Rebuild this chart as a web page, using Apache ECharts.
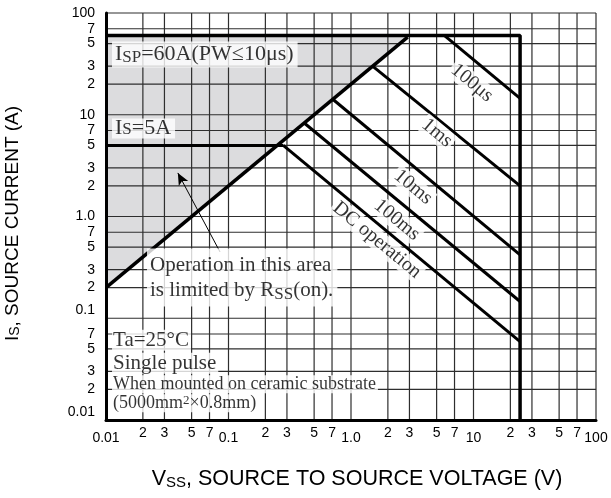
<!DOCTYPE html>
<html lang="en">
<head>
<meta charset="UTF-8">
<title>Safe operating area</title>
<style>
    html, body {
        margin: 0;
        padding: 0;
        background: #fff;
    }

    #chart {
        width: 611px;
        height: 498px;
    }
</style>
</head>
<body>
<div id="chart"></div>
<script src="https://cdn.jsdelivr.net/npm/echarts@6/dist/echarts.min.js"></script>
<script>
    // grid lines / tick labels (1-2-3-5-7 per decade)
    var xTicks = [0.01, 0.02, 0.03, 0.05, 0.07, 0.1, 0.2, 0.3, 0.5, 0.7, 1, 2, 3, 5, 7, 10, 20, 30, 50, 70, 100];
    var xTickLabels = ['0.01', '2', '3', '5', '7', '0.1', '2', '3', '5', '7', '1.0', '2', '3', '5', '7', '10', '2', '3', '5', '7', '100'];
    var yTicks = [0.01, 0.02, 0.03, 0.05, 0.07, 0.1, 0.2, 0.3, 0.5, 0.7, 1, 2, 3, 5, 7, 10, 20, 30, 50, 70, 100];
    var yTickLabels = ['0.01', '2', '3', '5', '7', '0.1', '2', '3', '5', '7', '1.0', '2', '3', '5', '7', '10', '2', '3', '5', '7', '100'];

    // limit lines, [V, A]
    var rssLine = [[0.01, 0.2], [2.9, 58]];
    var ispLine = [[0.01, 60], [24, 60], [24, 0.01]];
    var isLine = [[0.01, 5], [0.28, 5]];
    var dcLine = [[0.28, 5], [24, 0.059]];
    var ms100Line = [[0.415, 8.3], [24, 0.146]];
    var ms10Line = [[0.71, 14.2], [24, 0.42]];
    var ms1Line = [[1.5, 30], [24, 2.0]];
    var us100Line = [[5.8, 60], [24, 14.5]];
    var rssArea = [[0.01, 0.2], [2.9, 58], [2.9, 60], [0.01, 60]];
    var arrowFrom = [0.0853, 0.448];
    var arrowTo = [0.0386, 2.68];

    var X_MIN = 0.01, X_MAX = 100, Y_MIN = 0.01, Y_MAX = 100;

    var serif = '"Liberation Serif", "Times New Roman", serif';
    var sans = '"Liberation Sans", Arial, Helvetica, sans-serif';
    var GRID_COLOR = '#2e2e2e';

    var isDecade = function (v) {
        var l = Math.log10(v);
        return Math.abs(l - Math.round(l)) < 1e-6;
    };

    var findLabel = function (ticks, labels, v) {
        for (var i = 0; i < ticks.length; i++) {
            if (Math.abs(Math.log10(v / ticks[i])) < 1e-6) {
                return labels[i];
            }
        }
        return '';
    };

    var limitLine = function (data, width) {
        return {
            type: 'line',
            data: data,
            z: 3,
            symbol: 'none',
            silent: true,
            lineStyle: {color: '#000', width: width || 3},
            emphasis: {disabled: true}
        };
    };

    // grid drawn as a custom series so it sits between the shaded area and the curves
    var gridSeries = function (ticks, vertical) {
        return {
            type: 'custom',
            z: 1,
            silent: true,
            clip: false,
            data: ticks.map(function (v) {
                return vertical ? [v, 1] : [1, v];
            }),
            renderItem: function (params, api) {
                var a, b;
                if (vertical) {
                    a = api.coord([api.value(0), Y_MIN]);
                    b = api.coord([api.value(0), Y_MAX]);
                } else {
                    a = api.coord([X_MIN, api.value(1)]);
                    b = api.coord([X_MAX, api.value(1)]);
                }
                return {
                    type: 'line',
                    shape: {x1: a[0], y1: a[1], x2: b[0], y2: b[1]},
                    style: {stroke: GRID_COLOR, lineWidth: 1.2}
                };
            }
        };
    };

    var ANGLE = -39.7;
    var rotated = function (at, text) {
        return {
            value: at,
            label: {
                show: true,
                position: 'inside',
                rotate: ANGLE,
                formatter: text,
                fontFamily: serif,
                fontSize: 20,
                color: '#000',
                backgroundColor: '#fff',
                padding: [0, 2]
            }
        };
    };

    var notes = [
        {
            value: [0.01119, 39.1],
            label: {
                show: true, position: 'right', distance: 0,
                formatter: '{m|I}{s|SP}{m|=60A(PW≤10μs)}',
                backgroundColor: '#fff', padding: [1, 4, 1, 3],
                rich: {
                    m: {fontFamily: serif, fontSize: 22, lineHeight: 24, color: '#000'},
                    s: {fontFamily: serif, fontSize: 17, lineHeight: 17, verticalAlign: 'bottom', color: '#000'}
                }
            }
        },
        {
            value: [0.01119, 7.33],
            label: {
                show: true, position: 'right', distance: 0,
                formatter: '{m|I}{s|S}{m|=5A}',
                backgroundColor: '#fff', padding: [0, 4, 0, 3],
                rich: {
                    m: {fontFamily: serif, fontSize: 22, lineHeight: 20, color: '#000'},
                    s: {fontFamily: serif, fontSize: 17, lineHeight: 14, verticalAlign: 'bottom', color: '#000'}
                }
            }
        },
        {
            value: [0.0216, 0.251],
            label: {
                show: true, position: 'right', distance: 0,
                formatter: '{m|Operation in this area}\n{m|is limited by R}{s|SS}{m|(on).}',
                backgroundColor: '#fff', padding: [4, 4, 4, 3],
                rich: {
                    m: {fontFamily: serif, fontSize: 21, lineHeight: 25, color: '#000'},
                    s: {fontFamily: serif, fontSize: 17, lineHeight: 18, verticalAlign: 'bottom', color: '#000'}
                }
            }
        },
        {
            value: [0.0112, 0.0305],
            label: {
                show: true, position: 'right', distance: 0,
                formatter: '{a|Ta=25°C}\n{a|Single pulse}\n{b|When mounted on ceramic substrate}\n{b1|(5000mm}{c|2}{b2|×0.8mm)}',
                rich: {
                    a: {fontFamily: serif, fontSize: 21, lineHeight: 23, color: '#000', backgroundColor: '#fff', padding: [0, 2, 0, 1]},
                    b: {fontFamily: serif, fontSize: 18, lineHeight: 19, color: '#000', backgroundColor: '#fff', padding: [0, 2, 0, 1]},
                    b1: {fontFamily: serif, fontSize: 18, lineHeight: 19, color: '#000', backgroundColor: '#fff', padding: [0, 0, 0, 1]},
                    b2: {fontFamily: serif, fontSize: 18, lineHeight: 19, color: '#000', backgroundColor: '#fff', padding: [0, 2, 0, 0]},
                    c: {fontFamily: serif, fontSize: 13, lineHeight: 14, verticalAlign: 'top', color: '#000', backgroundColor: '#fff'}
                }
            }
        },
        rotated([9.72, 20.5], '100μs'),
        rotated([5.04, 6.62], '1ms'),
        rotated([3.21, 1.95], '10ms'),
        rotated([2.37, 0.925], '100ms'),
        rotated([1.63, 0.587], 'DC operation')
    ];

    var option = {
        animation: false,
        backgroundColor: '#fff',
        grid: {left: 106, right: 15, top: 13, bottom: 78, outerBoundsMode: 'none', containLabel: false},
        xAxis: {
            type: 'log',
            logBase: 10,
            min: X_MIN,
            max: X_MAX,
            z: 2,
            axisLine: {show: true, onZero: false, lineStyle: {color: '#000', width: 3}},
            axisTick: {show: false, customValues: xTicks},
            minorTick: {show: false},
            splitLine: {show: false},
            axisLabel: {
                customValues: xTicks,
                margin: 6,
                color: '#000',
                fontFamily: sans,
                fontSize: 14,
                formatter: function (v) {
                    var t = findLabel(xTicks, xTickLabels, v);
                    return isDecade(v) ? '{maj|' + t + '}' : t;
                },
                rich: {
                    maj: {fontFamily: sans, fontSize: 14, color: '#000', padding: [5, 0, 0, 0]}
                }
            },
            name: 'V{s|SS}, SOURCE TO SOURCE VOLTAGE (V)',
            nameLocation: 'middle',
            nameGap: 48,
            nameTextStyle: {
                fontFamily: sans, fontSize: 21.5, color: '#000',
                padding: [0, 0, 0, 12],
                rich: {s: {fontFamily: sans, fontSize: 15, color: '#000', verticalAlign: 'bottom', lineHeight: 14}}
            }
        },
        yAxis: {
            type: 'log',
            logBase: 10,
            min: Y_MIN,
            max: Y_MAX,
            z: 2,
            axisLine: {show: true, onZero: false, lineStyle: {color: '#000', width: 3}},
            axisTick: {show: false, customValues: yTicks},
            minorTick: {show: false},
            splitLine: {show: false},
            axisLabel: {
                customValues: yTicks,
                margin: 11,
                color: '#000',
                fontFamily: sans,
                fontSize: 14,
                formatter: function (v) {
                    var t = findLabel(yTicks, yTickLabels, v);
                    return v < 0.5 && isDecade(v) ? '{up|' + t + '}' : t;
                },
                rich: {
                    up: {fontFamily: sans, fontSize: 14, color: '#000', padding: [0, 0, 16, 0]}
                }
            },
            name: 'I{s|S}, SOURCE CURRENT (A)',
            nameLocation: 'middle',
            nameGap: 84,
            nameRotate: 90,
            nameTextStyle: {
                fontFamily: sans, fontSize: 19, color: '#000',
                padding: [0, 14, 0, 0],
                rich: {s: {fontFamily: sans, fontSize: 14, color: '#000', verticalAlign: 'bottom', lineHeight: 13}}
            }
        },
        series: [
            {
                // area limited by on-resistance
                type: 'custom',
                z: 0,
                silent: true,
                data: [rssArea[0]],
                renderItem: function (params, api) {
                    var pts = rssArea.map(function (p) {
                        return api.coord(p);
                    });
                    return {type: 'polygon', shape: {points: pts}, style: {fill: '#dcdcde'}};
                }
            },
            gridSeries(xTicks, true),
            gridSeries(yTicks, false),
            limitLine(ispLine, 3.5),
            limitLine(isLine, 3),
            limitLine(dcLine, 3),
            limitLine(ms100Line, 3),
            limitLine(ms10Line, 3),
            limitLine(ms1Line, 3),
            limitLine(us100Line, 3),
            {
                type: 'line',
                data: rssLine,
                z: 3,
                symbol: 'none',
                silent: true,
                lineStyle: {color: '#000', width: 3.5},
                emphasis: {disabled: true},
                markLine: {
                    silent: true,
                    symbol: ['none', 'arrow'],
                    symbolSize: [8, 12],
                    lineStyle: {color: '#000', width: 1, type: 'solid'},
                    label: {show: false},
                    emphasis: {disabled: true},
                    data: [[{coord: arrowFrom}, {coord: arrowTo}]]
                }
            },
            {
                type: 'scatter',
                z: 5,
                silent: true,
                symbolSize: 0,
                data: notes,
                emphasis: {disabled: true}
            }
        ]
    };

    var myChart = echarts.init(document.getElementById('chart'));
    myChart.setOption(option);
</script>
</body>
</html>
